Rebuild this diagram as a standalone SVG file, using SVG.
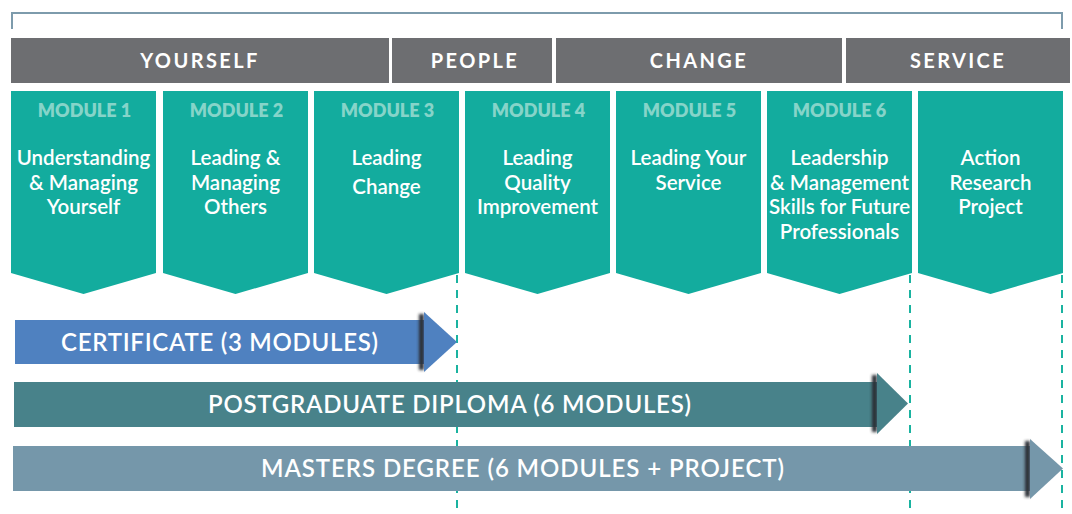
<svg xmlns="http://www.w3.org/2000/svg" width="1072" height="514" viewBox="0 0 1072 514">
<defs>
<style>
.hdr{fill:#6d6e71}
.hdrt{font-family:Lato,"Liberation Sans",sans-serif;font-weight:700;font-size:20px;fill:#fff;text-anchor:middle;letter-spacing:2.4px}
.mod{fill:#13ac9e}
.modl{font-family:Lato,"Liberation Sans",sans-serif;font-weight:800;font-size:18px;fill:#86d4c9;text-anchor:middle}
.modt{font-family:Lato,"Liberation Sans",sans-serif;font-weight:600;font-size:20.5px;fill:#fff;text-anchor:middle}
.dash{stroke:#1ab3a0;stroke-width:2;stroke-dasharray:8 7;fill:none}
.arrt{font-family:Lato,"Liberation Sans",sans-serif;font-weight:600;font-size:24px;fill:#fff;text-anchor:middle}
.shad{fill:#2a2f35;filter:url(#blur)}
</style>
<filter id="blur" x="-2" y="-0.2" width="5" height="1.4"><feGaussianBlur stdDeviation="1.6"/></filter>
</defs>
<g id="bracket"><path d="M12,29 V13 H1062 V29" fill="none" stroke="#7d9bac" stroke-width="2"/></g>
<g id="hdr-yourself"><rect class="hdr" x="11" y="38" width="378" height="45"/><text class="hdrt" x="200" y="68">YOURSELF</text></g>
<g id="hdr-people"><rect class="hdr" x="392" y="38" width="160" height="45"/><text class="hdrt" x="475" y="68">PEOPLE</text></g>
<g id="hdr-change"><rect class="hdr" x="556" y="38" width="286" height="45"/><text class="hdrt" x="699" y="68">CHANGE</text></g>
<g id="hdr-service"><rect class="hdr" x="846" y="38" width="224" height="45"/><text class="hdrt" x="958" y="68">SERVICE</text></g>
<g id="connectors">
<line class="dash" x1="457" y1="275" x2="457" y2="514"/>
<line class="dash" x1="910" y1="275" x2="910" y2="514"/>
<line class="dash" x1="1062" y1="275" x2="1062" y2="514"/>
</g>
<g id="module1"><polygon class="mod" points="11,91 156,91 156,273 83.5,294 11,273"/><text class="modl" x="84.5" y="117">MODULE 1</text><text class="modt" x="83.5" y="165">Understanding</text><text class="modt" x="83.5" y="189.5">&amp; Managing</text><text class="modt" x="83.5" y="214">Yourself</text></g>
<g id="module2"><polygon class="mod" points="163,91 308,91 308,273 235.5,294 163,273"/><text class="modl" x="236.5" y="117">MODULE 2</text><text class="modt" x="235.5" y="165">Leading &amp;</text><text class="modt" x="235.5" y="189.5">Managing</text><text class="modt" x="235.5" y="214">Others</text></g>
<g id="module3"><polygon class="mod" points="314,91 459,91 459,273 386.5,294 314,273"/><text class="modl" x="387.5" y="117">MODULE 3</text><text class="modt" x="386.5" y="165">Leading</text><text class="modt" x="386.5" y="194">Change</text></g>
<g id="module4"><polygon class="mod" points="465,91 610,91 610,273 537.5,294 465,273"/><text class="modl" x="538.5" y="117">MODULE 4</text><text class="modt" x="537.5" y="165">Leading</text><text class="modt" x="537.5" y="189.5">Quality</text><text class="modt" x="537.5" y="214">Improvement</text></g>
<g id="module5"><polygon class="mod" points="616,91 761,91 761,273 688.5,294 616,273"/><text class="modl" x="689.5" y="117">MODULE 5</text><text class="modt" x="688.5" y="165">Leading Your</text><text class="modt" x="688.5" y="189.5">Service</text></g>
<g id="module6"><polygon class="mod" points="767,91 912,91 912,273 839.5,294 767,273"/><text class="modl" x="839.5" y="117">MODULE 6</text><text class="modt" x="839.5" y="165">Leadership</text><text class="modt" x="839.5" y="189.5">&amp; Management</text><text class="modt" x="839.5" y="214">Skills for Future</text><text class="modt" x="839.5" y="238.5">Professionals</text></g>
<g id="project"><polygon class="mod" points="918,91 1063,91 1063,273 990.5,294 918,273"/><text class="modt" x="990.5" y="165">Action</text><text class="modt" x="990.5" y="189.5">Research</text><text class="modt" x="990.5" y="214">Project</text></g>
<g id="certificate"><rect x="15" y="320" width="411" height="44" fill="#4f81c0"/><rect class="shad" x="419" y="314" width="5" height="56"/><polygon points="424,312 457,342 424,372" fill="#4f81c0"/><text class="arrt" x="219.5" y="350.5" textLength="317">CERTIFICATE (3 MODULES)</text></g>
<g id="diploma"><rect x="14" y="382" width="865" height="45" fill="#48828a"/><rect class="shad" x="872" y="375" width="5" height="57"/><polygon points="877,373 908,403.5 877,434" fill="#48828a"/><text class="arrt" x="449.5" y="413" textLength="483">POSTGRADUATE DIPLOMA (6 MODULES)</text></g>
<g id="masters"><rect x="13" y="446" width="1020" height="45" fill="#7597aa"/><rect class="shad" x="1025" y="441" width="5" height="56"/><polygon points="1030,439 1063,468.5 1030,499" fill="#7597aa"/><text class="arrt" x="522.5" y="477" textLength="523">MASTERS DEGREE (6 MODULES + PROJECT)</text></g>
</svg>
